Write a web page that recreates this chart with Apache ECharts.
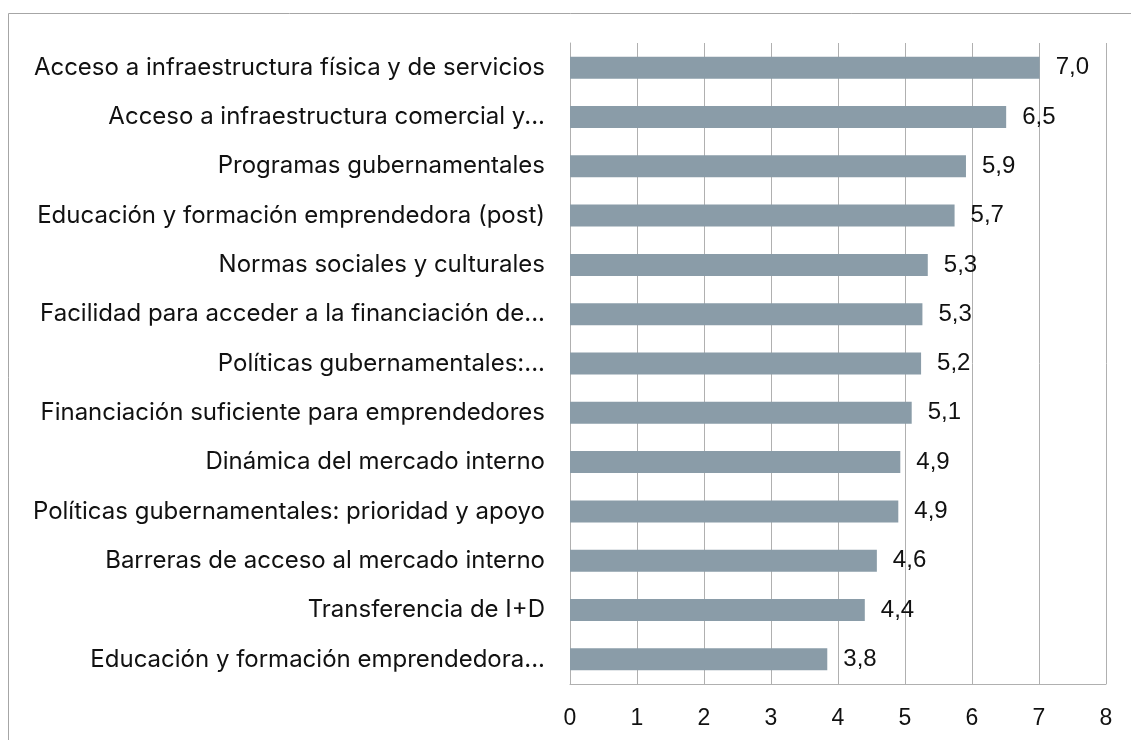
<!DOCTYPE html>
<html>
<head>
<meta charset="utf-8">
<script src="https://cdn.jsdelivr.net/npm/echarts@6/dist/echarts.min.js"></script>
<style>
  html, body { margin: 0; padding: 0; background: #fff; }
  #chart { width: 1131px; height: 740px; }
</style>
</head>
<body>
<div id="chart"></div>
<script>
// categorias (de arriba hacia abajo)
const categories = [
  'Acceso a infraestructura física y de servicios',
  'Acceso a infraestructura comercial y...',
  'Programas gubernamentales',
  'Educación y formación emprendedora (post)',
  'Normas sociales y culturales',
  'Facilidad para acceder a la financiación de...',
  'Políticas gubernamentales:...',
  'Financiación suficiente para emprendedores',
  'Dinámica del mercado interno',
  'Políticas gubernamentales: prioridad y apoyo',
  'Barreras de acceso al mercado interno',
  'Transferencia de I+D',
  'Educación y formación emprendedora...'
];
const values = [7.01, 6.51, 5.91, 5.74, 5.34, 5.26, 5.24, 5.1, 4.93, 4.9, 4.58, 4.4, 3.84];
const xTicks = [0, 1, 2, 3, 4, 5, 6, 7, 8];

const CAT_FONT = 'Inter';
const NUM_FONT = 'Liberation Sans';
const chart = echarts.init(document.getElementById('chart'));

const option = {
  backgroundColor: '#fff',
  animation: false,
  graphic: [
    {
      type: 'rect',
      shape: { x: 8.5, y: 13.5, width: 1200, height: 800 },
      style: { fill: 'none', stroke: '#a6a6a6', lineWidth: 1 },
      silent: true
    }
  ],
  grid: {
    left: 570,
    right: 25,
    top: 43,
    bottom: 56,
    containLabel: false
  },
  xAxis: {
    type: 'value',
    min: xTicks[0],
    max: xTicks[xTicks.length - 1],
    interval: 1,
    axisLine: { show: true, lineStyle: { color: '#b0b0b0', width: 1 } },
    axisTick: { show: false },
    splitLine: { show: true, lineStyle: { color: '#b0b0b0', width: 1 } },
    axisLabel: {
      color: '#111',
      fontFamily: NUM_FONT,
      fontSize: 23,
      margin: 23
    }
  },
  yAxis: {
    type: 'category',
    inverse: true,
    data: categories,
    axisLine: { show: true, lineStyle: { color: '#b0b0b0', width: 1 } },
    axisTick: { show: false },
    axisLabel: {
      color: '#111',
      fontFamily: CAT_FONT,
      fontSize: 24,
      margin: 25
    }
  },
  series: [
    {
      type: 'bar',
      data: values,
      barWidth: 22,
      itemStyle: { color: '#8a9ca8' },
      label: {
        show: true,
        position: 'right',
        distance: 16,
        color: '#111',
        fontFamily: NUM_FONT,
        fontSize: 24,
        formatter: (p) => p.value.toFixed(1).replace('.', ',')
      }
    }
  ]
};

chart.setOption(option);
</script>
</body>
</html>
